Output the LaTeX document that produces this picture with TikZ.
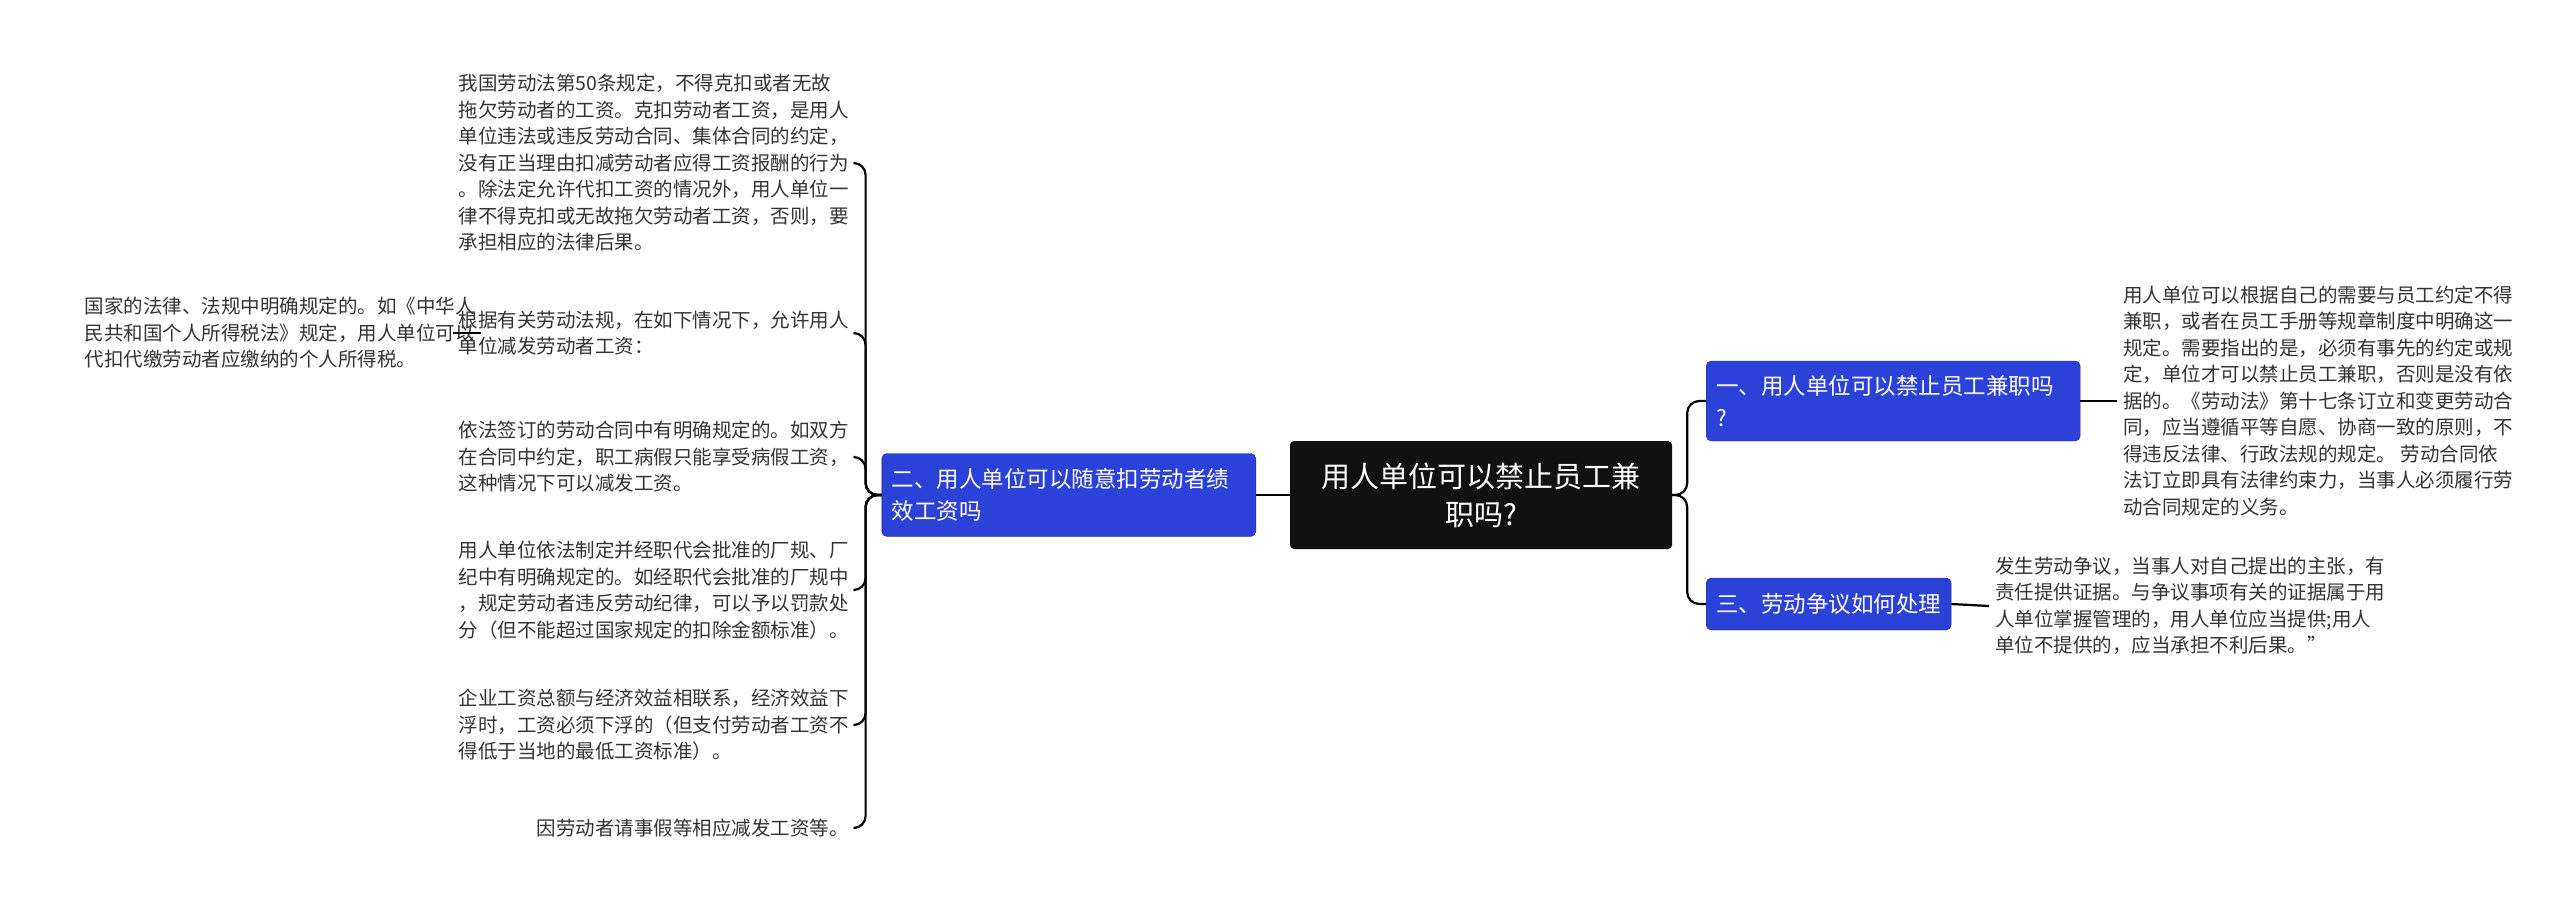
\documentclass[tikz,border=0pt]{standalone}
\usepackage{fontspec}
\setmainfont{Noto Sans CJK SC}
\usetikzlibrary{positioning}
\definecolor{topicblue}{HTML}{2B41D8}
\definecolor{rootblack}{HTML}{111111}
\definecolor{inktext}{HTML}{333333}

\begin{document}
\begin{tikzpicture}[x=1pt,y=-1pt,
  rootbox/.style={fill=rootblack,text=white,rounded corners=4pt,minimum width=382pt,minimum height=108pt,align=center,font=\fontsize{29}{38}\selectfont},
  topic/.style={fill=topicblue,draw=topicblue!70!black,text=white,rounded corners=5pt,inner xsep=10pt,align=left,anchor=west,font=\fontsize{22.5}{32}\selectfont},
  leaf/.style={text=inktext,align=left,inner xsep=6pt,inner ysep=0pt,font=\fontsize{19.5}{26.5}\selectfont},
  link/.style={line width=2.2pt,rounded corners=12pt}]
\useasboundingbox (0,0) rectangle (2560,922);
% centre
\node[rootbox] (root) at (1481,495) {用人单位可以禁止员工兼\\职吗?};
% right side
\node[topic,minimum height=80pt,text width=354pt] (t1) at (1706,401) {一、用人单位可以禁止员工兼职吗\\?};
\node[topic,minimum height=52pt] (t3) at (1706,604) {三、劳动争议如何处理};
\node[leaf,anchor=west] (r1) at (2117,401) {用人单位可以根据自己的需要与员工约定不得\\兼职，或者在员工手册等规章制度中明确这一\\规定。需要指出的是，必须有事先的约定或规\\定，单位才可以禁止员工兼职，否则是没有依\\据的。《劳动法》第十七条订立和变更劳动合\\同，应当遵循平等自愿、协商一致的原则，不\\得违反法律、行政法规的规定。 劳动合同依\\法订立即具有法律约束力，当事人必须履行劳\\动合同规定的义务。};
\node[leaf,anchor=west] (r3) at (1989,606) {发生劳动争议，当事人对自己提出的主张，有\\责任提供证据。与争议事项有关的证据属于用\\人单位掌握管理的，用人单位应当提供;用人\\单位不提供的，应当承担不利后果。”};
% left side
\node[topic,minimum height=83pt,text width=354pt,anchor=east] (t2) at (1256,495) {二、用人单位可以随意扣劳动者绩\\效工资吗};
\node[leaf,anchor=east] (l1) at (855,163) {我国劳动法第50条规定，不得克扣或者无故\\拖欠劳动者的工资。克扣劳动者工资，是用人\\单位违法或违反劳动合同、集体合同的约定，\\没有正当理由扣减劳动者应得工资报酬的行为\\。除法定允许代扣工资的情况外，用人单位一\\律不得克扣或无故拖欠劳动者工资，否则，要\\承担相应的法律后果。};
\node[leaf,anchor=east] (l2) at (855,333) {根据有关劳动法规，在如下情况下，允许用人\\单位减发劳动者工资：};
\node[leaf,anchor=east] (l3) at (855,457) {依法签订的劳动合同中有明确规定的。如双方\\在合同中约定，职工病假只能享受病假工资，\\这种情况下可以减发工资。};
\node[leaf,anchor=east] (l4) at (855,590) {用人单位依法制定并经职代会批准的厂规、厂\\纪中有明确规定的。如经职代会批准的厂规中\\，规定劳动者违反劳动纪律，可以予以罚款处\\分（但不能超过国家规定的扣除金额标准）。};
\node[leaf,anchor=east] (l5) at (855,725) {企业工资总额与经济效益相联系，经济效益下\\浮时，工资必须下浮的（但支付劳动者工资不\\得低于当地的最低工资标准）。};
\node[leaf,anchor=east] (l6) at (855,828) {因劳动者请事假等相应减发工资等。};
\node[leaf,anchor=east] (l2a) at (481,333) {国家的法律、法规中明确规定的。如《中华人\\民共和国个人所得税法》规定，用人单位可以\\代扣代缴劳动者应缴纳的个人所得税。};
% connectors
\foreach \t in {t1,t3} \draw[link] (root.east) -- ++(15,0) |- (\t.west);
\draw[link] (root.west) -- (t2.east);
\foreach \l in {l1,l2,l3,l4,l5,l6} \draw[link] (t2.west) -- ++(-16,0) |- (\l.east);
\draw[link] (t1.east) -- (r1.west);
\draw[link] (t3.east) -- (r3.west);
\draw[link] (l2.west) -- (l2a.east);
\end{tikzpicture}
\end{document}
